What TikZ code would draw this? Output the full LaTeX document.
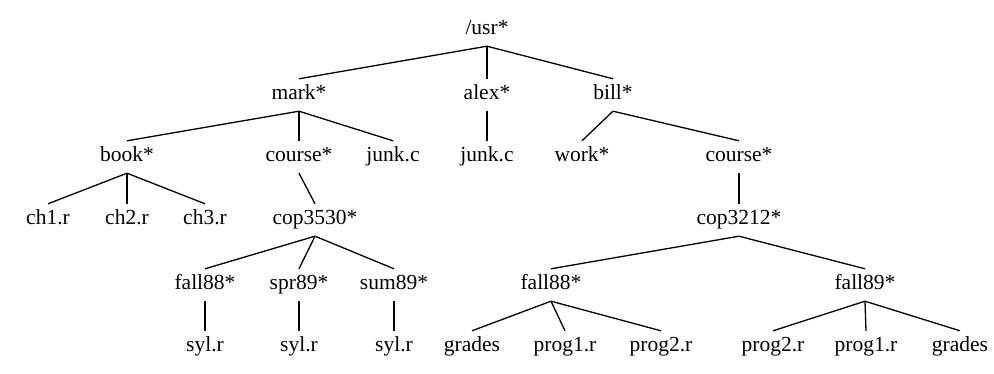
\documentclass[tikz,border=0pt]{standalone}
\usepackage{fontspec}
\setmainfont{Liberation Serif}
\usetikzlibrary{positioning}

\begin{document}
\begin{tikzpicture}[
  x=1pt, y=-1pt,
  every node/.style={font=\fontsize{21.5}{24}\selectfont},
  dirnode/.style={inner xsep=0pt, inner ysep=0pt, text height=14pt, text depth=4pt, minimum height=32pt},
  edge/.style={line width=1.3pt},
]
\useasboundingbox (0,0) rectangle (994,374);

% level 0
\node[dirnode] (usr) at (487, 30) {/usr*};

% level 1
\node[dirnode] (mark) at (299, 95) {mark*};
\node[dirnode] (alex) at (487, 95) {alex*};
\node[dirnode] (bill) at (613, 95) {bill*};

% level 2
\node[dirnode] (book) at (127, 157) {book*};
\node[dirnode] (mcourse) at (299, 157) {course*};
\node[dirnode] (mjunk) at (393, 157) {junk.c};
\node[dirnode] (ajunk) at (487, 157) {junk.c};
\node[dirnode] (work) at (582, 157) {work*};
\node[dirnode] (bcourse) at (739, 157) {course*};

% level 3
\node[dirnode] (ch1) at (48, 220) {ch1.r};
\node[dirnode] (ch2) at (127, 220) {ch2.r};
\node[dirnode] (ch3) at (205, 220) {ch3.r};
\node[dirnode] (cop3530) at (315, 220) {cop3530*};
\node[dirnode] (cop3212) at (739, 220) {cop3212*};

% level 4
\node[dirnode] (mfall88) at (205, 285) {fall88*};
\node[dirnode] (spr89) at (299, 285) {spr89*};
\node[dirnode] (sum89) at (394, 285) {sum89*};
\node[dirnode] (bfall88) at (551, 285) {fall88*};
\node[dirnode] (fall89) at (865, 285) {fall89*};

% level 5
\node[dirnode] (syla) at (205, 347) {syl.r};
\node[dirnode] (sylb) at (299, 347) {syl.r};
\node[dirnode] (sylc) at (394, 347) {syl.r};
\node[dirnode] (gradesa) at (472, 347) {grades};
\node[dirnode] (prog1a) at (565, 347) {prog1.r};
\node[dirnode] (prog2a) at (661, 347) {prog2.r};
\node[dirnode] (prog2b) at (773, 347) {prog2.r};
\node[dirnode] (prog1b) at (866, 347) {prog1.r};
\node[dirnode] (gradesb) at (960, 347) {grades};

% tree edges
\foreach \p/\c in {usr/mark, usr/alex, usr/bill,
                   mark/book, mark/mcourse, mark/mjunk, alex/ajunk,
                   bill/work, bill/bcourse,
                   book/ch1, book/ch2, book/ch3,
                   mcourse/cop3530, bcourse/cop3212,
                   cop3530/mfall88, cop3530/spr89, cop3530/sum89,
                   cop3212/bfall88, cop3212/fall89,
                   mfall88/syla, spr89/sylb, sum89/sylc,
                   bfall88/gradesa, bfall88/prog1a, bfall88/prog2a,
                   fall89/prog2b, fall89/prog1b, fall89/gradesb}
  \draw[edge] (\p.south) -- (\c.north);
\end{tikzpicture}
\end{document}
